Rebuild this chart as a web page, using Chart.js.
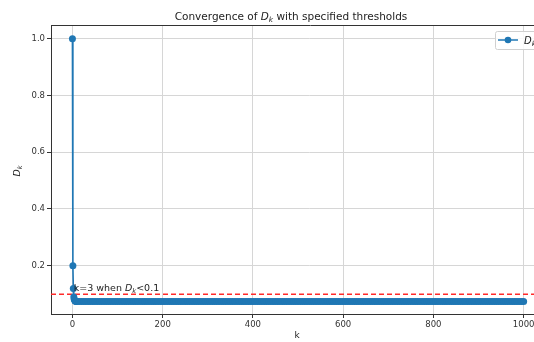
<!DOCTYPE html>
<html>
<head>
<meta charset="utf-8">
<script src="https://cdn.jsdelivr.net/npm/chart.js@4.4.1/dist/chart.umd.min.js"></script>
<style>
  html, body { margin: 0; padding: 0; background: #fff; width: 534px; height: 342px; overflow: hidden; }
  #wrap { position: relative; width: 534px; height: 342px; overflow: hidden; }
  #chart { position: absolute; left: 0; top: 0; }
</style>
</head>
<body>
<div id="wrap"><canvas id="chart" width="570" height="342"></canvas></div>
<script>
const kValues = [
  0, 1, 2, 3, 4, 5, 6, 7, 8, 9, 10,
  15, 20, 25, 30, 35, 40, 45, 50, 55, 60, 65, 70, 75, 80, 85, 90, 95, 100,
  105, 110, 115, 120, 125, 130, 135, 140, 145, 150, 155, 160, 165, 170, 175, 180, 185, 190, 195, 200,
  205, 210, 215, 220, 225, 230, 235, 240, 245, 250, 255, 260, 265, 270, 275, 280, 285, 290, 295, 300,
  305, 310, 315, 320, 325, 330, 335, 340, 345, 350, 355, 360, 365, 370, 375, 380, 385, 390, 395, 400,
  405, 410, 415, 420, 425, 430, 435, 440, 445, 450, 455, 460, 465, 470, 475, 480, 485, 490, 495, 500,
  505, 510, 515, 520, 525, 530, 535, 540, 545, 550, 555, 560, 565, 570, 575, 580, 585, 590, 595, 600,
  605, 610, 615, 620, 625, 630, 635, 640, 645, 650, 655, 660, 665, 670, 675, 680, 685, 690, 695, 700,
  705, 710, 715, 720, 725, 730, 735, 740, 745, 750, 755, 760, 765, 770, 775, 780, 785, 790, 795, 800,
  805, 810, 815, 820, 825, 830, 835, 840, 845, 850, 855, 860, 865, 870, 875, 880, 885, 890, 895, 900,
  905, 910, 915, 920, 925, 930, 935, 940, 945, 950, 955, 960, 965, 970, 975, 980, 985, 990, 995, 1000
];
const dValues = [
  1.0, 0.2, 0.12, 0.09, 0.082, 0.078, 0.076, 0.075, 0.075, 0.074, 0.074,
  0.074, 0.074, 0.074, 0.074, 0.074, 0.074, 0.074, 0.074, 0.074, 0.074, 0.074, 0.074, 0.074, 0.074, 0.074, 0.074, 0.074, 0.074,
  0.074, 0.074, 0.074, 0.074, 0.074, 0.074, 0.074, 0.074, 0.074, 0.074, 0.074, 0.074, 0.074, 0.074, 0.074, 0.074, 0.074, 0.074, 0.074, 0.074,
  0.074, 0.074, 0.074, 0.074, 0.074, 0.074, 0.074, 0.074, 0.074, 0.074, 0.074, 0.074, 0.074, 0.074, 0.074, 0.074, 0.074, 0.074, 0.074, 0.074,
  0.074, 0.074, 0.074, 0.074, 0.074, 0.074, 0.074, 0.074, 0.074, 0.074, 0.074, 0.074, 0.074, 0.074, 0.074, 0.074, 0.074, 0.074, 0.074, 0.074,
  0.074, 0.074, 0.074, 0.074, 0.074, 0.074, 0.074, 0.074, 0.074, 0.074, 0.074, 0.074, 0.074, 0.074, 0.074, 0.074, 0.074, 0.074, 0.074, 0.074,
  0.074, 0.074, 0.074, 0.074, 0.074, 0.074, 0.074, 0.074, 0.074, 0.074, 0.074, 0.074, 0.074, 0.074, 0.074, 0.074, 0.074, 0.074, 0.074, 0.074,
  0.074, 0.074, 0.074, 0.074, 0.074, 0.074, 0.074, 0.074, 0.074, 0.074, 0.074, 0.074, 0.074, 0.074, 0.074, 0.074, 0.074, 0.074, 0.074, 0.074,
  0.074, 0.074, 0.074, 0.074, 0.074, 0.074, 0.074, 0.074, 0.074, 0.074, 0.074, 0.074, 0.074, 0.074, 0.074, 0.074, 0.074, 0.074, 0.074, 0.074,
  0.074, 0.074, 0.074, 0.074, 0.074, 0.074, 0.074, 0.074, 0.074, 0.074, 0.074, 0.074, 0.074, 0.074, 0.074, 0.074, 0.074, 0.074, 0.074, 0.074,
  0.074, 0.074, 0.074, 0.074, 0.074, 0.074, 0.074, 0.074, 0.074, 0.074, 0.074, 0.074, 0.074, 0.074, 0.074, 0.074, 0.074, 0.074, 0.074, 0.074
];
const threshold = 0.1;
const hitK = 3;
const xTicks = [0, 200, 400, 600, 800, 1000];
const yTicks = [0.2, 0.4, 0.6, 0.8, 1.0];
// x axis runs past the right edge of the figure, as in the reference
const xRange = [-47.5, 1095];
const yRange = [0.03, 1.048];

const BLUE = '#1f77b4';
const FONT = '"DejaVu Sans", sans-serif';

// italic D with subscript k; returns its width, draws only when measureOnly is false
function drawDk(ctx, x, y, size, measureOnly) {
  ctx.font = 'italic ' + size + 'px ' + FONT;
  const wD = ctx.measureText('D').width;
  ctx.font = 'italic ' + (size * 0.7) + 'px ' + FONT;
  const wk = ctx.measureText('k').width;
  if (!measureOnly) {
    ctx.font = 'italic ' + size + 'px ' + FONT;
    ctx.fillText('D', x, y);
    ctx.font = 'italic ' + (size * 0.7) + 'px ' + FONT;
    ctx.fillText('k', x + wD, y + size * 0.2);
  }
  return wD + wk;
}

// parts are plain strings or the '@Dk' token
function drawRich(ctx, parts, x, y, size, align) {
  ctx.textAlign = 'left';
  ctx.textBaseline = 'alphabetic';
  let total = 0;
  parts.forEach(p => {
    if (p === '@Dk') total += drawDk(ctx, 0, 0, size, true);
    else { ctx.font = size + 'px ' + FONT; total += ctx.measureText(p).width; }
  });
  let cx = align === 'center' ? x - total / 2 : x;
  parts.forEach(p => {
    if (p === '@Dk') cx += drawDk(ctx, cx, y, size, false);
    else {
      ctx.font = size + 'px ' + FONT;
      ctx.fillText(p, cx, y);
      cx += ctx.measureText(p).width;
    }
  });
}

const decorations = {
  id: 'decorations',
  afterDatasetsDraw(chart) {
    const { ctx, chartArea: a, scales } = chart;
    ctx.save();
    // top spine
    ctx.strokeStyle = '#333';
    ctx.lineWidth = 1;
    ctx.beginPath();
    ctx.moveTo(a.left, a.top + 0.5);
    ctx.lineTo(chart.width, a.top + 0.5);
    ctx.stroke();

    // annotation
    ctx.fillStyle = '#222';
    drawRich(ctx, ['k=3 when ', '@Dk', '<0.1'],
      scales.x.getPixelForValue(hitK), scales.y.getPixelForValue(0.111), 9.5, 'left');

    // legend box (upper right, cut by the figure edge)
    ctx.fillStyle = 'rgba(255,255,255,0.85)';
    ctx.strokeStyle = '#d0d0d0';
    ctx.beginPath();
    ctx.moveTo(560, 31.5);
    ctx.lineTo(497.5, 31.5);
    ctx.arcTo(495.5, 31.5, 495.5, 33.5, 2);
    ctx.lineTo(495.5, 47.5);
    ctx.arcTo(495.5, 49.5, 497.5, 49.5, 2);
    ctx.lineTo(560, 49.5);
    ctx.closePath();
    ctx.fill();
    ctx.stroke();
    ctx.strokeStyle = BLUE;
    ctx.lineWidth = 1.5;
    ctx.beginPath();
    ctx.moveTo(498, 40);
    ctx.lineTo(518, 40);
    ctx.stroke();
    ctx.fillStyle = BLUE;
    ctx.beginPath();
    ctx.arc(508, 40, 3.3, 0, Math.PI * 2);
    ctx.fill();
    ctx.fillStyle = '#222';
    drawDk(ctx, 524, 44, 10, false);

    // title
    drawRich(ctx, ['Convergence of ', '@Dk', ' with specified thresholds'],
      291, 20, 10.5, 'center');

    // axis labels
    ctx.font = '9px ' + FONT;
    ctx.textAlign = 'center';
    ctx.fillText('k', 297, 338);
    ctx.translate(20, 171);
    ctx.rotate(-Math.PI / 2);
    drawRich(ctx, ['@Dk'], 0, 0, 9.5, 'center');
    ctx.restore();
  }
};

const points = kValues.map((k, i) => ({ x: k, y: dValues[i] }));

new Chart(document.getElementById('chart'), {
  type: 'line',
  data: {
    datasets: [
      {
        label: 'D_k',
        data: points,
        borderColor: BLUE,
        backgroundColor: BLUE,
        borderWidth: 1.6,
        pointRadius: 3.5,
        pointHoverRadius: 3.5,
        pointBorderWidth: 0,
        tension: 0
      },
      {
        label: 'threshold',
        data: [{ x: xRange[0], y: threshold }, { x: xRange[1], y: threshold }],
        borderColor: '#ff2a2a',
        borderWidth: 1.5,
        borderDash: [5, 3],
        pointRadius: 0,
        tension: 0
      }
    ]
  },
  options: {
    responsive: false,
    animation: false,
    layout: { padding: { left: 0, top: 25, right: 0, bottom: 0 } },
    plugins: {
      legend: { display: false },
      tooltip: { enabled: false }
    },
    scales: {
      x: {
        type: 'linear',
        min: xRange[0],
        max: xRange[1],
        afterBuildTicks: (s) => { s.ticks = xTicks.map(v => ({ value: v })); },
        afterFit: (s) => { s.height = 28; },
        ticks: {
          color: '#333',
          font: { family: FONT, size: 8.5 },
          padding: 2,
          maxRotation: 0,
          callback: (v) => String(v)
        },
        grid: { color: '#d6d6d6', tickColor: '#333', tickLength: 4 },
        border: { color: '#333' }
      },
      y: {
        min: yRange[0],
        max: yRange[1],
        afterBuildTicks: (s) => { s.ticks = yTicks.map(v => ({ value: v })); },
        afterFit: (s) => { s.width = 51; },
        ticks: {
          color: '#333',
          font: { family: FONT, size: 8.5 },
          padding: 2,
          callback: (v) => v.toFixed(1)
        },
        grid: { color: '#d6d6d6', tickColor: '#333', tickLength: 4 },
        border: { color: '#333' }
      }
    }
  },
  plugins: [decorations]
});
</script>
</body>
</html>
